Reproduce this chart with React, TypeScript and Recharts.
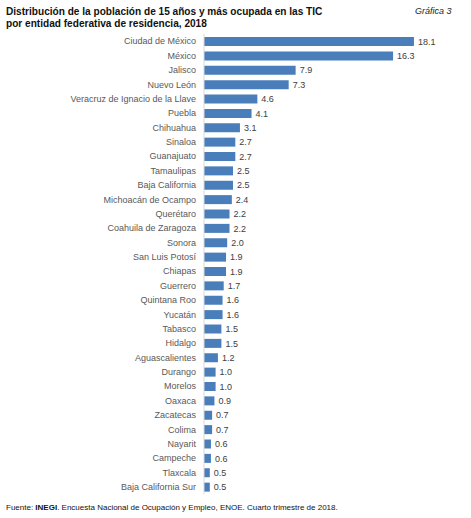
import { ReactElement } from 'react'
import { BarChart, Bar, XAxis, YAxis, LabelList } from 'recharts'

const estados: string[] = [
    'Ciudad de México',
    'México',
    'Jalisco',
    'Nuevo León',
    'Veracruz de Ignacio de la Llave',
    'Puebla',
    'Chihuahua',
    'Sinaloa',
    'Guanajuato',
    'Tamaulipas',
    'Baja California',
    'Michoacán de Ocampo',
    'Querétaro',
    'Coahuila de Zaragoza',
    'Sonora',
    'San Luis Potosí',
    'Chiapas',
    'Guerrero',
    'Quintana Roo',
    'Yucatán',
    'Tabasco',
    'Hidalgo',
    'Aguascalientes',
    'Durango',
    'Morelos',
    'Oaxaca',
    'Zacatecas',
    'Colima',
    'Nayarit',
    'Campeche',
    'Tlaxcala',
    'Baja California Sur',
]

const porcentajes: number[] = [
    18.1, 16.3, 7.9, 7.3, 4.6, 4.1, 3.1, 2.7, 2.7, 2.5, 2.5, 2.4, 2.2, 2.2, 2.0, 1.9, 1.9, 1.7, 1.6, 1.6, 1.5, 1.5,
    1.2, 1.0, 1.0, 0.9, 0.7, 0.7, 0.6, 0.6, 0.5, 0.5,
]

const data = estados.map((name, i) => ({ name, value: porcentajes[i] }))

const FONT = '"Liberation Sans", Arial, sans-serif'

export default function App(): ReactElement {
    return (
        <div style={{ position: 'absolute', left: 0, top: 0, width: 471, height: 518, background: '#fff', fontFamily: FONT }}>
            <div style={{ position: 'absolute', left: 6, top: 6, fontSize: 10.1, fontWeight: 'bold', lineHeight: '12px', color: '#111' }}>
                Distribución de la población de 15 años y más ocupada en las TIC
                <br />
                por entidad federativa de residencia, 2018
            </div>
            <div style={{ position: 'absolute', left: 415, top: 6, fontSize: 9, fontStyle: 'italic', color: '#222' }}>
                Gráfica 3
            </div>
            <BarChart
                width={471}
                height={518}
                data={data}
                layout="vertical"
                margin={{ top: 34, right: 35, bottom: 24, left: 0 }}
            >
                <XAxis type="number" domain={[0, 20]} hide />
                <YAxis
                    type="category"
                    dataKey="name"
                    width={204}
                    interval={0}
                    tickLine={false}
                    tickSize={0}
                    tickMargin={8}
                    axisLine={{ stroke: '#d9d9d9' }}
                    tick={{ fontSize: 9, fill: '#595959', fontFamily: FONT }}
                />
                <Bar dataKey="value" fill="#4a7ebb" barSize={9} isAnimationActive={false}>
                    <LabelList
                        dataKey="value"
                        position="right"
                        offset={4}
                        formatter={(v: number) => v.toFixed(1)}
                        style={{ fontSize: 9, fill: '#404040', fontFamily: FONT }}
                    />
                </Bar>
            </BarChart>
            <div style={{ position: 'absolute', left: 6, top: 503, fontSize: 8, color: '#111' }}>
                Fuente: <b>INEGI</b>. Encuesta Nacional de Ocupación y Empleo, ENOE. Cuarto trimestre de 2018.
            </div>
        </div>
    )
}
